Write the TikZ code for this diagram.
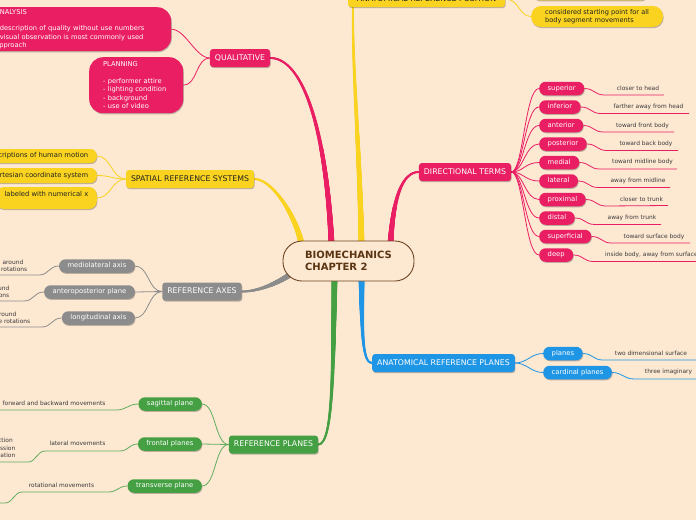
\documentclass[tikz,border=0pt]{standalone}
\usepackage{fontspec}
\setmainfont{DejaVu Sans}
\usetikzlibrary{decorations.markings,shadows}
\definecolor{bgc}{HTML}{FDE8D2}
\definecolor{pinkc}{HTML}{E91E63}
\definecolor{yelc}{HTML}{F9D31F}
\definecolor{grayc}{HTML}{8C8C8C}
\definecolor{greenc}{HTML}{45A043}
\definecolor{bluec}{HTML}{1F96E5}
\definecolor{brownc}{HTML}{6E4422}
\definecolor{browntext}{HTML}{5A3512}
\definecolor{leaftext}{HTML}{3A3A3A}
\definecolor{darktext}{HTML}{222222}
\pgfdeclarelayer{bgl}
\pgfdeclarelayer{links}
\pgfsetlayers{bgl,links,main}
\tikzset{
 shad/.style={drop shadow={shadow xshift=0.6pt,shadow yshift=-1.1pt,opacity=0.25,fill=black}},
 topic/.style={shad,rounded corners=3pt,inner xsep=5pt,inner ysep=0pt,minimum height=18pt,text height=5.6pt,text depth=1.6pt,font=\fontsize{7.8}{9}\selectfont},
 subbase/.style={shad,rounded corners=6.5pt,inner xsep=8.5pt,inner ysep=0pt,minimum height=13.5pt,text=white,font=\fontsize{6.8}{8.2}\selectfont},
 sub/.style={subbase,text height=5pt,text depth=1.4pt},
 bigbox/.style={shad,fill=pinkc,text=white,rounded corners=14pt,inner ysep=0pt,align=left,font=\fontsize{6.7}{8.5}\selectfont},
 leaf/.style={inner sep=0pt,text=leaftext,font=\fontsize{5.9}{7.4}\selectfont},
 link/.style={line width=0.8pt},
 uline/.style={line width=0.8pt},
 taper/.style n args={3}{postaction={decorate,decoration={markings,
   mark=between positions 0 and 1 step 0.4pt with {%
     \pgfmathsetmacro\tapr{#1+(#2-#1)*\pgfkeysvalueof{/pgf/decoration/mark info/distance from start}/\pgfdecoratedpathlength}%
     \fill[#3] (0,0) circle[radius=\tapr pt];}}}},
}
\begin{document}
\begin{tikzpicture}[x=1pt,y=-1pt]
\useasboundingbox (0,0) rectangle (696,520);
\begin{pgfonlayer}{bgl}
\fill[bgc] (0,0) rectangle (696,520);
\end{pgfonlayer}
\clip (0,0) rectangle (696,520);

% center
\node[fill=bgc,draw=brownc,line width=0.9pt,rounded corners=19pt,minimum width=131pt,minimum height=40pt,align=left,text=browntext,font=\bfseries\fontsize{10}{12}\selectfont] (c) at (348.5,261) {BIOMECHANICS\\CHAPTER 2};

% anatomical reference position
\node[topic,fill=yelc,text=darktext,minimum width=157pt,minimum height=16pt] (arpos) at (426.5,-1) {ANATOMICAL REFERENCE POSITION};
\node[sub,fill=yelc,minimum width=114pt,minimum height=18pt,anchor=south west] (hid) at (533,0.5) {};
\node[subbase,fill=yelc,text=darktext,align=left,rounded corners=10pt,anchor=west,inner xsep=14pt,minimum height=21pt,font=\fontsize{6.6}{8}\selectfont] (cons) at (531,16.5) {considered starting point for all\\body segment movements};

% qualitative
\node[topic,fill=pinkc,text=white] (qual) at (240,58) {QUALITATIVE};
\node[bigbox,anchor=north west,text width=164pt,inner xsep=12pt,minimum height=44pt] (ana) at (-17,7) {ANALYSIS\\[8pt]- description of quality without use numbers\\- visual observation is most commonly used\\approach};
\node[bigbox,anchor=north west,text width=66pt,inner xsep=14pt,minimum height=56pt] (plan) at (89,57) {PLANNING\\[8.4pt]- performer attire\\- lighting condition\\- background\\- use of video};

% spatial reference systems
\node[topic,fill=yelc,text=darktext] (srs) at (190,179) {SPATIAL REFERENCE SYSTEMS};
\node[sub,fill=yelc,text=darktext,anchor=east,minimum height=14pt] (s1) at (97,156) {descriptions of human motion};
\node[sub,fill=yelc,text=darktext,anchor=east,minimum height=15pt] (s2) at (97,175.5) {Cartesian coordinate system};
\node[subbase,fill=yelc,text=darktext,anchor=east,align=right,minimum height=22pt,rounded corners=8pt] (s3) at (97,198) {labeled with numerical x\\\phantom{x}};

% reference axes
\node[topic,fill=grayc,text=white] (ra) at (202,291.5) {REFERENCE AXES};
\node[sub,fill=grayc,anchor=east] (ax1) at (135,266) {mediolateral axis};
\node[sub,fill=grayc,anchor=east] (ax2) at (135,292) {anteroposterior plane};
\node[sub,fill=grayc,anchor=east] (ax3) at (135,318) {longitudinal axis};
\node[leaf,align=right,anchor=east] (ax1l) at (27.5,265.5) {around\hspace*{4pt}\\rotations};
\node[leaf,align=right,anchor=east] (ax2l) at (9.5,291.5) {around\\rotations};
\node[leaf,align=right,anchor=east] (ax3l) at (30.5,317.5) {around\hspace*{14pt}\\e rotations};

% reference planes
\node[topic,fill=greenc,text=white] (rp) at (273.5,444.5) {REFERENCE PLANES};
\node[sub,fill=greenc,anchor=east] (p1) at (202,404) {sagittal plane};
\node[sub,fill=greenc,anchor=east] (p2) at (202,444) {frontal planes};
\node[sub,fill=greenc,anchor=east] (p3) at (202,486) {transverse plane};
\node[leaf] (p1l) at (54,403) {forward and backward movements};
\node[leaf] (p2l) at (77.5,443.5) {lateral movements};
\node[leaf,align=right,anchor=east] (p2ll) at (15.5,448) {ction\hspace*{2.5pt}\\ssion\hspace*{1.5pt}\\lation};
\node[leaf] (p3l) at (61.5,485) {rotational movements};

% directional terms
\node[topic,fill=pinkc,text=white] (dt) at (465,172) {DIRECTIONAL TERMS};
\node[sub,fill=pinkc,anchor=west] (d1) at (539,88.5) {superior};
\node[sub,fill=pinkc,anchor=west] (d2) at (539,107) {inferior};
\node[sub,fill=pinkc,anchor=west] (d3) at (539,125.5) {anterior};
\node[sub,fill=pinkc,anchor=west] (d4) at (539,144) {posterior};
\node[sub,fill=pinkc,anchor=west] (d5) at (539,162.5) {medial};
\node[sub,fill=pinkc,anchor=west] (d6) at (539,181) {lateral};
\node[sub,fill=pinkc,anchor=west] (d7) at (539,199.5) {proximal};
\node[sub,fill=pinkc,anchor=west] (d8) at (539,218) {distal};
\node[sub,fill=pinkc,anchor=west] (d9) at (539,236.5) {superficial};
\node[sub,fill=pinkc,anchor=west] (d10) at (539,255) {deep};
\node[leaf] (d1l) at (638,88) {closer to head};
\node[leaf] (d2l) at (648.5,107) {farther away from head};
\node[leaf] (d3l) at (642.5,125.5) {toward front body};
\node[leaf] (d4l) at (646,144) {toward back body};
\node[leaf] (d5l) at (642.5,162) {toward midline body};
\node[leaf] (d6l) at (638,181) {away from midline};
\node[leaf] (d7l) at (641.5,199) {closer to trunk};
\node[leaf] (d8l) at (632,218) {away from trunk};
\node[leaf] (d9l) at (654,236.5) {toward surface body};
\node[leaf,anchor=west] (d10l) at (605,255) {inside body, away from surface};

% anatomical reference planes
\node[topic,fill=bluec,text=white] (arpl) at (443.5,363) {ANATOMICAL REFERENCE PLANES};
\node[sub,fill=bluec,anchor=west] (pl1) at (543,353.5) {planes};
\node[sub,fill=bluec,anchor=west] (pl2) at (543,372.5) {cardinal planes};
\node[leaf] (pl1l) at (651,353) {two dimensional surface};
\node[leaf] (pl2l) at (668.5,372) {three imaginary};

% free ends of underlines
\coordinate (u1) at (664,95);
\coordinate (u2) at (689,113.5);
\coordinate (u3) at (674,132);
\coordinate (u4) at (678,150.5);
\coordinate (u5) at (677,169);
\coordinate (u6) at (670,187.5);
\coordinate (u7) at (668,205.5);
\coordinate (u8) at (661,224.5);
\coordinate (u9) at (690,243);
\coordinate (u10) at (705,261.5);
\coordinate (ub1) at (705,360);
\coordinate (ub2) at (705,379);
\coordinate (ua1) at (-5,275);
\coordinate (ua2) at (-5,301);
\coordinate (ua3) at (-5,327);
\coordinate (ug1) at (-5,410);
\coordinate (gA) at (45,451);
\coordinate (gB) at (28,462);
\coordinate (gC) at (-5,462);
\coordinate (tA) at (22,492);
\coordinate (tB) at (5,503);
\coordinate (tC) at (-5,503);

\begin{pgfonlayer}{links}
% main tapered branches
\draw[yelc,line width=1.8pt,taper={2.9}{0.9}{yelc}] ([xshift=13pt,yshift=-3pt]c.north) .. controls +(-2,-94) and +(-1,54) .. ([xshift=-73.5pt]arpos.south);
\draw[pinkc,line width=1.8pt,taper={2.9}{0.9}{pinkc}] ([xshift=-17pt,yshift=-3pt]c.north) .. controls +(-5.5,-114) and +(33,0) .. (qual.east);
\draw[yelc,line width=1.8pt,taper={2.9}{0.9}{yelc}] ([xshift=-47pt,yshift=-3pt]c.north) .. controls +(-6.5,-29) and +(18,0) .. (srs.east);
\draw[pinkc,line width=1.8pt,taper={2.9}{0.9}{pinkc}] ([xshift=42pt,yshift=-3pt]c.north) .. controls +(2.5,-44) and +(-17,0) .. (dt.west);
\draw[grayc,line width=1.8pt,taper={2.9}{0.9}{grayc}] ([xshift=10pt,yshift=-12pt]c.west) .. controls +(-13,9) and +(18,0) .. (ra.east);
\draw[greenc,line width=1.8pt,taper={2.9}{0.9}{greenc}] ([xshift=-14pt,yshift=3pt]c.south) .. controls +(-1.5,102) and +(14,0) .. (rp.east);
\draw[bluec,line width=1.8pt,taper={2.9}{0.9}{bluec}] ([xshift=13pt,yshift=3pt]c.south) .. controls +(0.5,52) and +(-10,0) .. (arpl.west);

% second level links
\draw[link,yelc] (arpos.east) .. controls +(14,0) and +(-12,0) .. (cons.west);
\draw[link,yelc] (arpos.east) .. controls +(14,0) and +(-12,0) .. (hid.west);
\draw[link,pinkc] (qual.west) .. controls +(-14,0) and +(14,0) .. (ana.east);
\draw[link,pinkc] (qual.west) .. controls +(-14,0) and +(14,0) .. (plan.east);
\draw[link,yelc] (srs.west) .. controls +(-14,0) and +(14,0) .. (s1.east);
\draw[link,yelc] (srs.west) .. controls +(-14,0) and +(14,0) .. (s2.east);
\draw[link,yelc] (srs.west) .. controls +(-14,0) and +(14,0) .. (s3.east);
\draw[link,grayc] (ra.west) .. controls +(-14,0) and +(14,0) .. (ax1.east);
\draw[link,grayc] (ra.west) -- (ax2.east);
\draw[link,grayc] (ra.west) .. controls +(-14,0) and +(14,0) .. (ax3.east);
\draw[link,greenc!85!white] (rp.west) .. controls +(-14,0) and +(14,0) .. (p1.east);
\draw[link,greenc!85!white] (rp.west) -- (p2.east);
\draw[link,greenc!85!white] (rp.west) .. controls +(-14,0) and +(14,0) .. (p3.east);
\foreach \k in {1,...,10}{
  \draw[link,pinkc] (dt.east) .. controls +(12,0) and +(-14,0) .. (d\k.west);
}
\draw[link,bluec] (arpl.east) .. controls +(12,0) and +(-12,0) .. (pl1.west);
\draw[link,bluec] (arpl.east) .. controls +(12,0) and +(-12,0) .. (pl2.west);

% underlines of leaves
\foreach \k in {1,...,10}{
  \draw[uline,pinkc] (d\k.east) .. controls +(10,0) and +(-10,0) .. ([xshift=20pt,yshift=-6.5pt]d\k.east) -- (u\k);
}
\draw[uline,bluec] (pl1.east) .. controls +(10,0) and +(-10,0) .. ([xshift=20pt,yshift=-6.5pt]pl1.east) -- (ub1);
\draw[uline,bluec] (pl2.east) .. controls +(10,0) and +(-10,0) .. ([xshift=22pt,yshift=-6.5pt]pl2.east) -- (ub2);
\draw[uline,grayc] (ax1.west) .. controls +(-10,0) and +(10,0) .. ([xshift=-20pt,yshift=-9pt]ax1.west) -- (ua1);
\draw[uline,grayc] (ax2.west) .. controls +(-10,0) and +(10,0) .. ([xshift=-20pt,yshift=-9pt]ax2.west) -- (ua2);
\draw[uline,grayc] (ax3.west) .. controls +(-10,0) and +(10,0) .. ([xshift=-20pt,yshift=-9pt]ax3.west) -- (ua3);
\draw[uline,greenc!85!white] (p1.west) .. controls +(-10,0) and +(10,0) .. ([xshift=-22pt,yshift=-6pt]p1.west) -- (ug1);
\draw[uline,greenc!85!white] (p2.west) .. controls +(-9,0) and +(9,0) .. ([xshift=-18pt,yshift=-7pt]p2.west) -- (gA) .. controls +(-8,0) and +(8,0) .. (gB) -- (gC);
\draw[uline,greenc!85!white] (p3.west) .. controls +(-9,0) and +(9,0) .. ([xshift=-19pt,yshift=-6pt]p3.west) -- (tA) .. controls +(-8,0) and +(8,0) .. (tB) -- (tC);
\end{pgfonlayer}
\end{tikzpicture}
\end{document}
